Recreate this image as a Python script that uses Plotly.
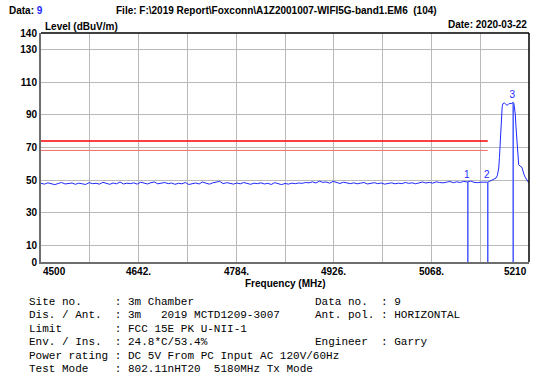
import plotly.graph_objects as go

# measured trace, noise floor 4500-5145 MHz in 5 MHz steps
noise_freq = list(range(4500, 5150, 5))
noise_level = [
    48.1, 47.6, 48.4, 47.9, 47.3, 48.0, 48.6, 47.7, 47.9, 48.3, 47.5, 48.2, 47.8,
    47.4, 48.5, 47.9, 48.1, 47.6, 48.7, 48.0, 47.5, 48.3, 47.8, 48.9, 47.7, 48.2,
    47.9, 48.4, 47.6, 48.8, 48.1, 47.7, 48.5, 48.9, 47.8, 48.2, 48.6, 47.9, 48.3,
    47.5, 48.1, 47.8, 48.6, 47.4, 48.0, 48.3, 47.7, 48.9, 48.2, 47.6, 48.4, 48.7,
    49.3, 47.9, 48.5, 48.1, 47.6, 48.3, 47.8, 48.6, 48.0, 47.5, 48.2, 47.9, 48.4,
    47.7, 48.1, 47.4, 48.5, 47.8, 47.3, 48.0, 47.6, 48.2, 47.9, 48.3, 48.1, 48.6,
    48.4, 49.0, 48.3, 49.4, 48.7, 48.9, 48.2, 49.3, 48.6, 48.0, 48.8, 48.3, 47.9,
    48.4, 47.8, 48.2, 48.6, 47.7, 48.1, 48.5, 47.9, 48.3, 47.6, 48.0, 48.4, 47.8,
    48.2, 47.9, 48.6, 48.1, 48.4, 47.8, 48.5, 48.9, 48.3, 48.7, 48.2, 49.0, 48.6,
    48.4, 48.8, 49.2, 48.5, 49.0, 48.6, 49.3, 48.9, 49.5, 48.7, 48.5, 48.8, 48.6,
]
# carrier region
peak_freq = [5150, 5153, 5156, 5159, 5162, 5164, 5166, 5167, 5168, 5169, 5170, 5171,
             5172, 5174, 5176, 5178, 5180, 5182, 5184, 5186, 5187, 5188, 5189, 5190,
             5191, 5192, 5193, 5194, 5195, 5197, 5199, 5200, 5201, 5203, 5205, 5207,
             5209, 5210]
peak_level = [48.8, 49.4, 50.1, 50.6, 51.3, 53.0, 57.5, 64.0, 72.0, 82.0, 90.5, 95.0,
              96.8, 97.2, 96.5, 95.8, 96.4, 97.0, 96.8, 97.3, 97.5, 96.9, 94.0, 90.5,
              83.0, 75.0, 68.0, 62.5, 59.5, 58.6, 58.2, 57.4, 55.6, 53.2, 51.4, 49.8,
              48.9, 48.4]

limit_freq = [4500, 5150]
limit_pk = [74, 74]
limit_eirp = [68.2, 68.2]

marker_names = ["1", "2", "3"]
marker_freq = [5121, 5150, 5187]
marker_level = [48.9, 48.8, 97.5]

x_ticks = [4500, 4642, 4784, 4926, 5068, 5210]
x_ticktext = ["4500", "4642.", "4784.", "4926.", "5068.", "5210"]
x_grid = list(range(4500, 5211, 71))
y_ticks = [0, 10, 30, 50, 70, 90, 110, 130, 140]

info_left = [
    "Site no.     : 3m Chamber",
    "Dis. / Ant.  : 3m   2019 MCTD1209-3007",
    "Limit        : FCC 15E PK U-NII-1",
    "Env. / Ins.  : 24.8*C/53.4%",
    "Power rating : DC 5V From PC Input AC 120V/60Hz",
    "Test Mode    : 802.11nHT20  5180MHz Tx Mode",
]
info_right = ["Data no.  : 9", "Ant. pol. : HORIZONTAL", "", "Engineer  : Garry", "", ""]

blue = "rgb(30,40,255)"
font = dict(family="Arial, Liberation Sans", size=10, color="black")

W, H = 537, 382
PL, PR, PT, PB = 41, 529, 33, 262   # plot area in pixels


def px_y(py):
    return (PB - py) / float(PB - PT)


def px_x(px):
    return (px - PL) / float(PR - PL)


fig = go.Figure()
fig.add_trace(go.Scatter(x=limit_freq, y=limit_eirp, mode="lines",
                         line=dict(color="rgb(240,110,110)", width=1)))
fig.add_trace(go.Scatter(x=limit_freq, y=limit_pk, mode="lines",
                         line=dict(color="rgb(255,0,0)", width=1.5)))
fig.add_trace(go.Scatter(x=noise_freq + peak_freq, y=noise_level + peak_level, mode="lines",
                         line=dict(color=blue, width=1)))

mx, my = [], []
for f, lv in zip(marker_freq, marker_level):
    mx += [f, f, None]
    my += [0, lv, None]
fig.add_trace(go.Scatter(x=mx, y=my, mode="lines", line=dict(color="rgb(70,90,255)", width=1.5)))
fig.add_trace(go.Scatter(x=[f - 1.5 for f in marker_freq], y=[lv + 4 for lv in marker_level],
                         mode="text", text=marker_names,
                         textfont=dict(family="Arial", size=10, color=blue)))


def label(px, py, text, anchor="left", f=font):
    return dict(x=px_x(px), y=px_y(py), xref="paper", yref="paper", text=text,
                showarrow=False, xanchor=anchor, yanchor="middle", font=f)


anns = []
for v, t in zip(x_ticks, x_ticktext):
    anc = "left" if v == x_ticks[0] else ("right" if v == x_ticks[-1] else "center")
    anns.append(dict(x=v, y=px_y(264), xref="x", yref="paper", text="<b>%s</b>" % t,
                     showarrow=False, xanchor=anc, yanchor="top", font=font))
anns.append(label(285, 283, "<b>Frequency (MHz)</b>", "center"))
anns.append(label(7, 10, "<b>Data: <span style='color:rgb(30,40,255)'>9</span></b>"))
anns.append(label(276, 10, "<b>File: F:\\2019 Report\\Foxconn\\A1Z2001007-WIFI5G-band1.EM6"
                           "\u00a0\u00a0(104)</b>", "center"))
anns.append(label(529, 25, "<b>Date: 2020-03-22</b>", "right"))
anns.append(label(43, 27, "<b>Level (dBuV/m)</b>"))

mono = dict(family="Courier New, Liberation Mono", size=11, color="black")
rows = [301.5, 315, 328.5, 342, 355.5, 369]
for py, lt, rt in zip(rows, info_left, info_right):
    anns.append(label(27, py, lt.replace(" ", "\u00a0"), f=mono))
    if rt:
        anns.append(label(313, py, rt.replace(" ", "\u00a0"), f=mono))

fig.update_layout(
    width=W,
    height=H,
    margin=dict(l=PL, r=W - PR, t=PT, b=H - PB, autoexpand=False),
    paper_bgcolor="white",
    plot_bgcolor="white",
    showlegend=False,
    xaxis=dict(range=[4500, 5210], tickvals=x_grid, showticklabels=False, ticks="",
               showgrid=True, gridcolor="rgb(185,185,185)", gridwidth=1, zeroline=False,
               showline=True, linecolor="rgb(110,110,110)", linewidth=2),
    yaxis=dict(range=[0, 140], tickvals=y_ticks, ticktext=["<b>%d</b>" % v for v in y_ticks],
               ticks="", tickfont=font, showgrid=True, gridcolor="rgb(185,185,185)", gridwidth=1,
               zeroline=False, showline=True, linecolor="rgb(110,110,110)", linewidth=2),
    annotations=anns,
    shapes=[
        dict(type="line", xref="paper", yref="paper", x0=0, x1=1, y0=1, y1=1,
             line=dict(color="black", width=1.5)),
        dict(type="line", xref="paper", yref="paper", x0=1, x1=1, y0=0, y1=1,
             line=dict(color="black", width=1.5)),
    ],
)

# drop the browser's default 8px body margin so the figure sits at the window corner
fig.write_html("out.html", config={"displayModeBar": False},
               post_script="document.body.style.margin='0';")
